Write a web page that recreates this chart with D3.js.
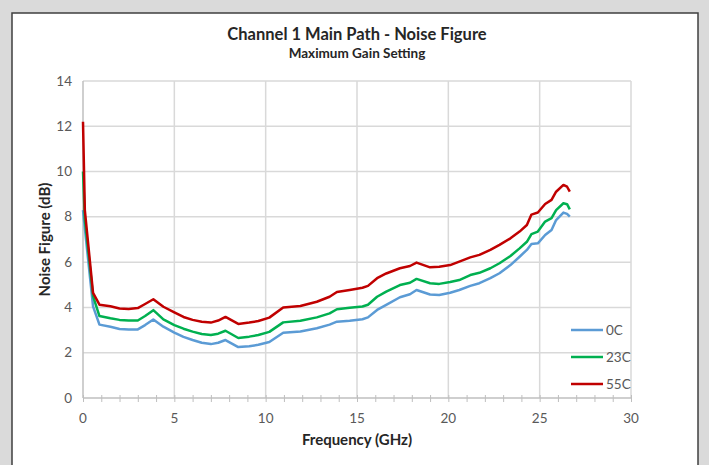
<!DOCTYPE html>
<html>
<head>
<meta charset="utf-8">
<script src="https://cdn.jsdelivr.net/npm/d3@7"></script>
<style>
  body { margin: 0; background: #dadada; }
  svg { display: block; }
  text { font-family: Lato, "Open Sans", sans-serif; }
</style>
</head>
<body>
<script>
// frequency points (GHz) shared by all three series
const freq = [0, 0.1, 0.55, 0.9, 1.5, 2, 2.5, 3, 3.4, 3.85, 4.4, 5, 5.5, 6, 6.5, 7, 7.4, 7.8, 8.5, 9.1, 9.6,
  10.2, 10.96, 11.9, 12.8, 13.5, 13.9, 14.6, 15.3, 15.6, 16.1, 16.6, 17.35, 17.9, 18.26, 19.0, 19.5, 20.1,
  20.6, 21.2, 21.7, 22.3, 22.8, 23.4, 23.9, 24.3, 24.55, 24.9, 25.3, 25.65, 25.9, 26.3, 26.5, 26.65];

const nf0C = [8.3, 7.5, 4.05, 3.24, 3.15, 3.05, 3.03, 3.03, 3.22, 3.47, 3.15, 2.89, 2.7, 2.56, 2.44, 2.38, 2.44,
  2.56, 2.25, 2.29, 2.35, 2.47, 2.88, 2.94, 3.08, 3.24, 3.37, 3.41, 3.48, 3.56, 3.89, 4.11, 4.45, 4.58, 4.77,
  4.57, 4.55, 4.65, 4.77, 4.95, 5.07, 5.29, 5.51, 5.87, 6.24, 6.54, 6.8, 6.83, 7.2, 7.42, 7.86, 8.19, 8.13, 8.01];

const nf23C = [10.0, 7.9, 4.5, 3.62, 3.52, 3.45, 3.42, 3.42, 3.62, 3.88, 3.47, 3.22, 3.06, 2.93, 2.83, 2.78, 2.84,
  2.97, 2.65, 2.71, 2.78, 2.92, 3.34, 3.41, 3.56, 3.74, 3.92, 3.99, 4.04, 4.12, 4.47, 4.7, 4.99, 5.09, 5.26,
  5.07, 5.04, 5.12, 5.21, 5.43, 5.53, 5.73, 5.95, 6.27, 6.61, 6.9, 7.24, 7.35, 7.79, 7.94, 8.3, 8.6, 8.56, 8.33];

const nf55C = [12.2, 8.3, 4.64, 4.12, 4.05, 3.95, 3.93, 3.97, 4.15, 4.36, 4.03, 3.78, 3.58, 3.45, 3.37, 3.33, 3.42,
  3.58, 3.27, 3.33, 3.4, 3.55, 4.0, 4.06, 4.25, 4.47, 4.68, 4.77, 4.87, 4.95, 5.29, 5.5, 5.73, 5.83, 5.98,
  5.77, 5.8, 5.87, 6.02, 6.21, 6.32, 6.54, 6.76, 7.05, 7.35, 7.64, 8.1, 8.19, 8.57, 8.75, 9.11, 9.41, 9.33, 9.11];

const seriesNames = ["0C", "23C", "55C"];
const seriesValues = [nf0C, nf23C, nf55C];
const seriesColors = ["#5b9bd5", "#00b050", "#c00000"];
const xTicks = [0, 5, 10, 15, 20, 25, 30];
const yTicks = [0, 2, 4, 6, 8, 10, 12, 14];

const W = 709, H = 465;
const margin = { left: 83, right: 78, top: 81, bottom: 67 };

const svg = d3.select("body").append("svg").attr("width", W).attr("height", H);

// white chart panel with dark frame
svg.append("rect")
  .attr("x", 12).attr("y", 13).attr("width", 686).attr("height", 470)
  .attr("fill", "#fff").attr("stroke", "#3f3f3f").attr("stroke-width", 1.5);

const x = d3.scaleLinear().domain([0, 30]).range([margin.left, W - margin.right]);
const y = d3.scaleLinear().domain([0, 14]).range([H - margin.bottom, margin.top]);

// gridlines
svg.append("g")
  .selectAll("line.h").data(yTicks.filter(d => d > 0)).enter().append("line")
  .attr("x1", x(0)).attr("x2", x(30))
  .attr("y1", d => y(d)).attr("y2", d => y(d))
  .attr("stroke", "#d9d9d9").attr("stroke-width", 1.5);
svg.append("g")
  .selectAll("line.v").data(xTicks.filter(d => d > 0)).enter().append("line")
  .attr("x1", d => x(d)).attr("x2", d => x(d))
  .attr("y1", y(0)).attr("y2", y(14))
  .attr("stroke", "#d9d9d9").attr("stroke-width", 1.5);

// axes (minor ticks every 1 GHz, crossing the axis line)
const xAxis = d3.axisBottom(x).tickValues(d3.range(0, 31, 1)).tickSize(7).tickFormat("");
svg.append("g")
  .attr("transform", `translate(0,${y(0) - 3})`)
  .call(xAxis)
  .call(g => g.select(".domain").remove())
  .call(g => g.selectAll(".tick line").attr("stroke", "#bfbfbf"));

svg.append("line")
  .attr("x1", x(0)).attr("x2", x(30)).attr("y1", y(0)).attr("y2", y(0))
  .attr("stroke", "#bfbfbf").attr("stroke-width", 1.5);
svg.append("line")
  .attr("x1", x(0)).attr("x2", x(0)).attr("y1", y(0)).attr("y2", y(14))
  .attr("stroke", "#bfbfbf").attr("stroke-width", 1.5);

svg.append("g").selectAll("text").data(xTicks).enter().append("text")
  .attr("x", d => x(d)).attr("y", y(0) + 25)
  .attr("text-anchor", "middle").attr("font-size", 13.5).attr("fill", "#595959")
  .text(d => d);

svg.append("g").selectAll("text").data(yTicks).enter().append("text")
  .attr("x", x(0) - 11).attr("y", d => y(d) + 4.5)
  .attr("text-anchor", "end").attr("font-size", 13.5).attr("fill", "#595959")
  .text(d => d);

// series
const line = d3.line().x((d, i) => x(freq[i])).y(d => y(d));
svg.append("g").selectAll("path").data(seriesValues).enter().append("path")
  .attr("d", d => line(d))
  .attr("fill", "none")
  .attr("stroke", (d, i) => seriesColors[i])
  .attr("stroke-width", 2.5)
  .attr("stroke-linejoin", "round");

// legend
const legend = svg.append("g").selectAll("g").data(seriesNames).enter().append("g")
  .attr("transform", (d, i) => `translate(571,${330 + i * 27})`);
legend.append("line")
  .attr("x1", 0).attr("x2", 32).attr("y1", 0).attr("y2", 0)
  .attr("stroke", (d, i) => seriesColors[i]).attr("stroke-width", 2.5);
legend.append("text")
  .attr("x", 35).attr("y", 5)
  .attr("font-size", 13.5).attr("fill", "#595959")
  .text(d => d);

// titles
svg.append("text").attr("x", 357).attr("y", 40)
  .attr("text-anchor", "middle").attr("font-size", 16.5).attr("font-weight", "bold").attr("fill", "#262626")
  .text("Channel 1 Main Path - Noise Figure");
svg.append("text").attr("x", 357).attr("y", 58)
  .attr("text-anchor", "middle").attr("font-size", 13.5).attr("font-weight", "bold").attr("fill", "#262626")
  .text("Maximum Gain Setting");

svg.append("text").attr("x", 357).attr("y", 445)
  .attr("text-anchor", "middle").attr("font-size", 15).attr("font-weight", "bold").attr("fill", "#262626")
  .text("Frequency (GHz)");

svg.append("text")
  .attr("transform", `translate(50,${(y(0) + y(14)) / 2}) rotate(-90)`)
  .attr("text-anchor", "middle").attr("font-size", 15).attr("font-weight", "bold").attr("fill", "#262626")
  .text("Noise Figure (dB)");
</script>
</body>
</html>
